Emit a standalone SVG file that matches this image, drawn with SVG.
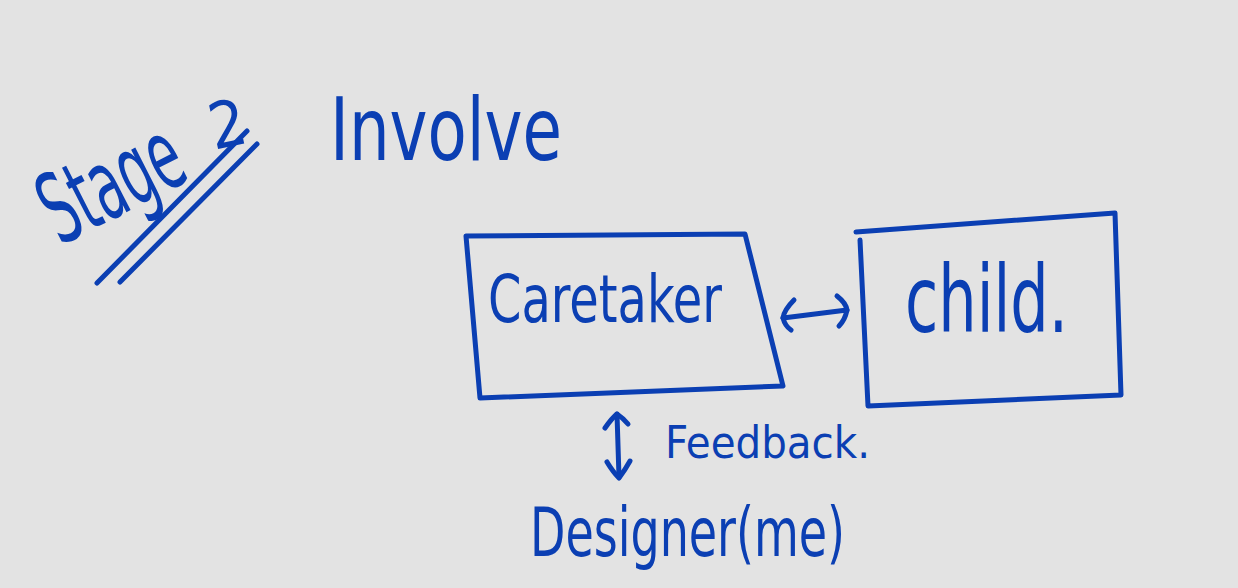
<svg xmlns="http://www.w3.org/2000/svg" width="1238" height="588" viewBox="0 0 1238 588">
  <style>
    .ink { fill: none; stroke: #0b3fb3; stroke-width: 5; stroke-linecap: round; stroke-linejoin: round; }
    .hand { fill: #0b3fb3; font-family: "Liberation Sans Narrow", "DejaVu Sans Condensed", "Liberation Sans", sans-serif; }
  </style>
  <rect width="1238" height="588" fill="#e3e3e3"/>

  <!-- heading -->
  <g id="title-stage">
    <text class="hand" x="0" y="0" font-size="98" textLength="148" lengthAdjust="spacingAndGlyphs" transform="translate(60 246) rotate(-27)">Stage</text>
    <text class="hand" x="208" y="146" font-size="64" transform="rotate(-12 230 120)">2</text>
    <path class="ink" d="M247 131 L97 283"/>
    <path class="ink" d="M257 144 L120 282"/>
  </g>
  <g id="title-involve">
    <text class="hand" x="330" y="160" font-size="88" textLength="232" lengthAdjust="spacingAndGlyphs">Involve</text>
  </g>

  <!-- nodes -->
  <g id="node-caretaker">
    <path class="ink" d="M466 236 L745 234 L783 386 L480 398 Z"/>
    <text class="hand" x="488" y="322" font-size="66" textLength="234" lengthAdjust="spacingAndGlyphs">Caretaker</text>
  </g>
  <g id="node-child">
    <path class="ink" d="M856 232 L1115 213 L1121 395 L868 406 L860 240"/>
    <text class="hand" x="905" y="332" font-size="92" textLength="163" lengthAdjust="spacingAndGlyphs">child.</text>
  </g>
  <g id="node-designer">
    <text class="hand" x="530" y="556" font-size="68" textLength="315" lengthAdjust="spacingAndGlyphs">Designer(me)</text>
  </g>

  <!-- connectors -->
  <g id="connectors">
    <path class="ink" d="M783 318 L847 310"/>
    <path class="ink" d="M794 300 Q784 310 783 318 Q785 326 791 330"/>
    <path class="ink" d="M837 296 Q846 303 847 310 Q845 320 839 326"/>
    <path class="ink" d="M617 414 L619 477"/>
    <path class="ink" d="M605 428 Q612 418 617 414 Q623 418 628 424"/>
    <path class="ink" d="M607 462 Q613 472 619 478 Q625 470 630 461"/>
    <text class="hand" x="665" y="458" font-size="44" textLength="205" lengthAdjust="spacingAndGlyphs">Feedback.</text>
  </g>
</svg>
